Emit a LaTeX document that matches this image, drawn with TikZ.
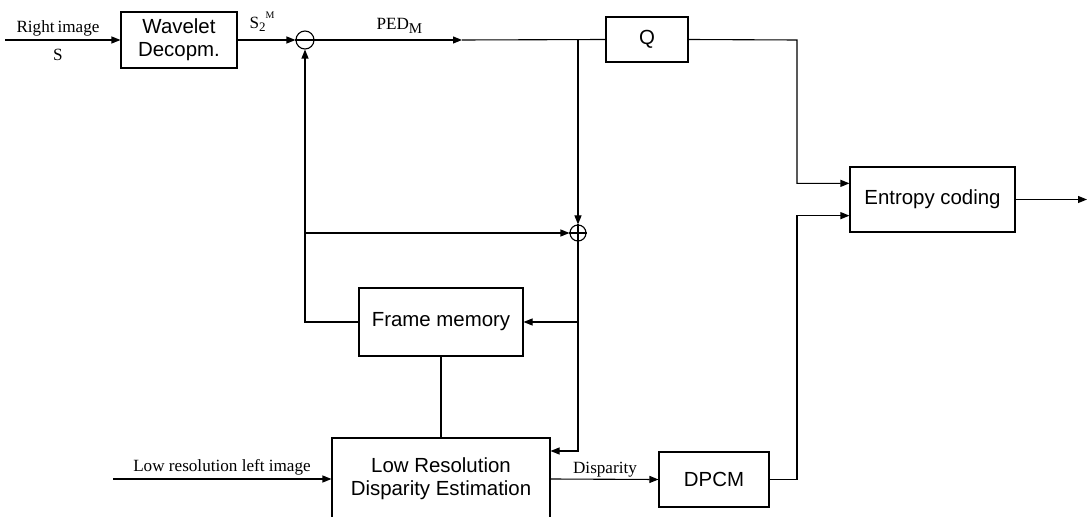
\documentclass[tikz,border=0pt]{standalone}
\usepackage{fontspec}
\setmainfont{Liberation Serif}
\newfontfamily\arialf{Liberation Sans}
\usetikzlibrary{arrows.meta}
\begin{document}
\begin{tikzpicture}[x=1bp,y=-1bp,
  line width=1.1bp,
  arr/.style={-{Triangle[length=9bp,width=7bp]}},
  blk/.style={draw,rectangle,inner sep=0pt,align=center,font=\arialf\fontsize{20.5}{23}\selectfont},
  sumc/.style={draw,circle,inner sep=0pt},
  lbl/.style={font=\fontsize{17.2}{19}\selectfont,inner sep=1bp}]
\useasboundingbox (0,0) rectangle (1088,517);
\clip (0,0) rectangle (1088,517);
% blocks
\node[blk,minimum width=116bp,minimum height=56bp] (wav) at (179,40) {Wavelet\\Decopm.};
\node[blk,minimum width=82bp,minimum height=45bp] (q) at (647,39.5) {Q};
\node[blk,minimum width=165bp,minimum height=65bp] (ent) at (932.5,199.5) {Entropy coding};
\node[blk,minimum width=164bp,minimum height=68bp] (fm) at (441,322) {Frame memory};
\node[blk,minimum width=218bp,minimum height=82bp] (lrde) at (441,479) {Low Resolution\\Disparity Estimation};
\node[blk,minimum width=110bp,minimum height=55bp] (dpcm) at (714,479.5) {DPCM};
% summing junctions
\node[sumc,minimum size=18bp] (sub) at (305,40) {};
\draw (sub.west) -- (sub.east);
\node[sumc,minimum size=16bp] (add) at (578,233) {};
\draw (add.west) -- (add.east) (add.north) -- (add.south);
% coordinates
\coordinate (in1) at (5,40);
\coordinate (in2) at (113,479);
\coordinate (out) at (1087,199.5);
\coordinate (pa) at (462,40);
\coordinate (br) at (578,40);
\coordinate (qc) at (797,40);
\coordinate (dc) at (797,479.5);
\coordinate (lb) at (305,233);
\coordinate (lc) at (305,322);
\coordinate (ac) at (578,322);
\coordinate (ad) at (578,451);
% connectors
\draw[arr] (in1) -- (wav.west);
\draw[arr] (wav.east) -- (sub.west);
\draw[arr] (sub.east) -- (pa);
\draw (pa) -- (q.west);
\draw[arr] (q.east) -- (qc) |- (ent.169);
\draw[arr] (dpcm.east) -- (dc) |- (ent.191);
\draw[arr] (ent.east) -- (out);
\draw[arr] (br) -- (add.north);
\draw[arr] (lb) -- (add.west);
\draw[arr] (fm.west) -- (lc) -- (sub.south);
\draw (add.south) -- (ac);
\draw[arr] (ac) -- (fm.east);
\draw[arr] (ac) -- (ad) -- (ad -| lrde.east);
\draw (fm.south) -- (fm.south |- lrde.north);
\draw[arr] (in2) -- (lrde.west);
\draw[arr] (lrde.east) -- (dpcm.west);
% labels
\node[lbl] (l1) at (58,28) {Right\hspace{3bp}image};
\node[lbl] (l2) at (58,55) {S};
\node[lbl,anchor=west] (l3) at (248,22) {S\raisebox{-0.4ex}{\fontsize{13}{13}\selectfont 2}\raisebox{1.2ex}{\fontsize{10}{10}\selectfont M}};
\node[lbl,anchor=west] (l4) at (375,26) {PED\raisebox{-0.45ex}{\fontsize{15}{15}\selectfont M}};
\node[lbl] (l5) at (222,467) {Low resolution left image};
\node[lbl] (l6) at (605,470) {Disparity};
\end{tikzpicture}
\end{document}
